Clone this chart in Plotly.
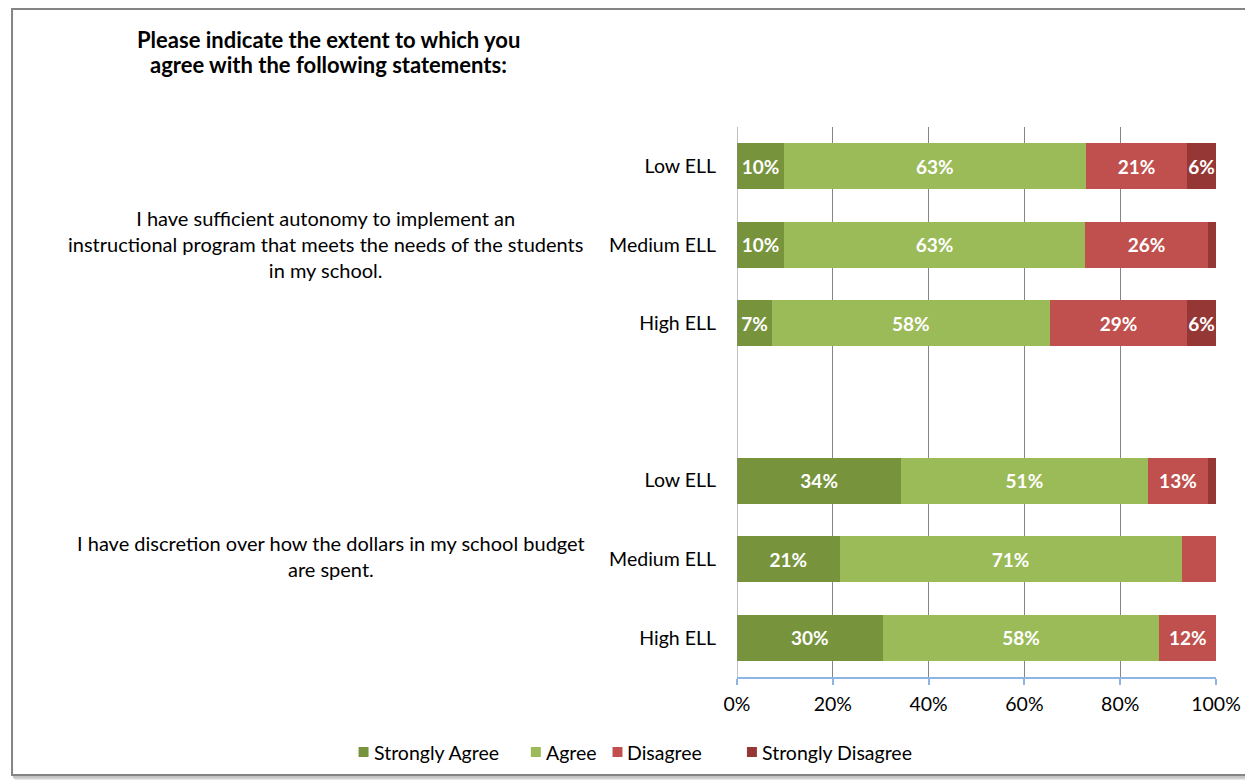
import plotly.graph_objects as go

# ---- data ----
row_labels = ["Low ELL", "Medium ELL", "High ELL", "", "Low ELL", "Medium ELL", "High ELL"]
series_names = ["Strongly Agree", "Agree", "Disagree", "Strongly Disagree"]
strongly_agree = [9.8, 9.8, 7.3, None, 34.3, 21.4, 30.4]
agree = [63.0, 62.9, 58.0, None, 51.4, 71.4, 57.8]
disagree = [21.2, 25.6, 28.7, None, 12.7, 7.2, 11.8]
strongly_disagree = [6.0, 1.7, 6.0, None, 1.6, 0.0, 0.0]
x_ticks = [0, 20, 40, 60, 80, 100]
x_ticklabels = ["0%", "20%", "40%", "60%", "80%", "100%"]
title_lines = ["Please indicate the extent to which you", "agree with the following statements:"]
statements = [
    "I have sufficient autonomy to implement an<br>instructional program that meets the needs of the students<br>in my school.",
    "I have discretion over how the dollars in my school budget<br>are spent.",
]
colors = ["#77933C", "#9BBB59", "#C0504D", "#953735"]

# ---- figure geometry (page body has an 8px margin) ----
OFF = 8
W, H = 1253 - OFF, 782 - OFF
L, R, T, B = 737 - OFF, 1253 - 1218, 127 - OFF, 782 - 677
pw, ph = W - L - R, H - T - B

def px_x(p):
    return (p - OFF - L) / pw

def px_y(p):
    return 1 - (p - OFF - T) / ph

FONT = "Lato, 'Liberation Sans', sans-serif"
FS = 19.5

fig = go.Figure()
ypos = list(range(len(row_labels)))
for name, vals, col in zip(series_names, [strongly_agree, agree, disagree, strongly_disagree], colors):
    texts = [("" if (v is None or v < 3) else f"{round(v)}%") for v in vals]
    fig.add_trace(go.Bar(
        y=ypos, x=vals, name=name, orientation="h",
        marker=dict(color=col, line=dict(width=0)),
        text=texts, textposition="inside", insidetextanchor="middle",
        textangle=0, constraintext="none",
        textfont=dict(color="white", size=19, family=FONT, weight="bold"),
        width=0.585, cliponaxis=False,
        hoverinfo="skip", showlegend=False,
    ))

fig.update_layout(
    barmode="stack",
    width=W, height=H,
    margin=dict(l=L, r=R, t=T, b=B, pad=0),
    paper_bgcolor="white", plot_bgcolor="white",
    font=dict(family=FONT, size=FS, color="#000000"),
    showlegend=False,
    xaxis=dict(range=[0, 100], tickvals=x_ticks, ticktext=x_ticklabels,
               showgrid=True, gridcolor="#868686", gridwidth=1,
               showline=True, linecolor="#8EB4E3", linewidth=1.5,
               ticks="outside", ticklen=6, tickcolor="#8EB4E3", tickwidth=1.5,
               ticklabelstandoff=3,
               tickfont=dict(size=FS), zeroline=False, fixedrange=True),
    yaxis=dict(tickvals=ypos, ticktext=row_labels, range=[6.5, -0.5],
               showgrid=False, showline=False, zeroline=False,
               ticks="", ticklabelstandoff=20, tickfont=dict(size=FS), fixedrange=True),
)

# vertical y-axis line at 0%
fig.add_shape(type="line", xref="x", yref="paper", x0=0, x1=0, y0=0, y1=1,
              line=dict(color="#868686", width=1))

# outer frame with soft shadow
for i, c in enumerate(["#E6E6E6", "#D4D4D4", "#C4C4C4"]):
    d = 4 - i
    fig.add_shape(type="rect", xref="paper", yref="paper",
                  x0=px_x(9 + d), x1=px_x(1249 + d), y0=px_y(9 + d), y1=px_y(775 + d),
                  line=dict(color=c, width=2), fillcolor="rgba(0,0,0,0)", layer="below")
fig.add_shape(type="rect", xref="paper", yref="paper",
              x0=px_x(9), x1=px_x(1249), y0=px_y(9), y1=px_y(775),
              line=dict(color="#858585", width=2), fillcolor="white", layer="below")

# title (two lines, tight spacing)
for line, ty in zip(title_lines, [40, 64]):
    fig.add_annotation(text="<b>" + line + "</b>", xref="paper", yref="paper",
                       x=px_x(327), y=px_y(ty), showarrow=False, align="center",
                       font=dict(size=22, family=FONT), xanchor="center", yanchor="middle")

# statements
fig.add_annotation(text=statements[0], xref="paper", yref="y",
                   x=px_x(324), y=1, yshift=1, showarrow=False, align="center",
                   font=dict(size=20, family=FONT), xanchor="center", yanchor="middle")
fig.add_annotation(text=statements[1], xref="paper", yref="y",
                   x=px_x(329), y=5, yshift=3, showarrow=False, align="center",
                   font=dict(size=20, family=FONT), xanchor="center", yanchor="middle")

# legend (square marker right before text)
legend_x = [357, 530, 612, 747]
for name, col, lx in zip(series_names, colors, legend_x):
    fig.add_shape(type="rect", xref="paper", yref="paper",
                  x0=px_x(lx), x1=px_x(lx + 10), y0=px_y(747), y1=px_y(757),
                  line=dict(width=0), fillcolor=col)
    fig.add_annotation(text=name, xref="paper", yref="paper",
                       x=px_x(lx + 13), y=px_y(752), showarrow=False,
                       xanchor="left", yanchor="middle",
                       font=dict(size=FS, family=FONT))

fig.write_html("out.html")
